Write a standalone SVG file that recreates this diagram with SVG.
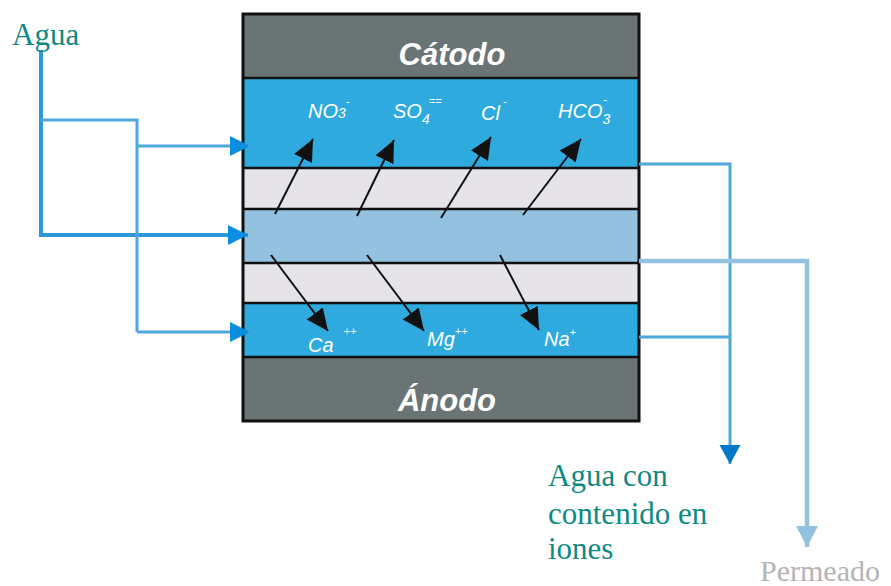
<svg xmlns="http://www.w3.org/2000/svg" width="891" height="586" viewBox="0 0 891 586">
<defs>
<style>
.ion{font-family:"Liberation Sans",Arial,sans-serif;font-style:italic;fill:#fff;font-size:20px}
.sup{font-size:11px}
.elec{font-family:"Liberation Sans",Arial,sans-serif;font-style:italic;font-weight:bold;fill:#fff;font-size:31px;text-anchor:middle}
.teal{font-family:"Liberation Serif","Times New Roman",serif;fill:#0e8a84;font-size:31px}
.blk{stroke:#111;stroke-width:2;fill:none}
.sep{stroke:#111;stroke-width:2.5}
</style>
<marker id="ah" markerUnits="userSpaceOnUse" markerWidth="24" markerHeight="22" refX="22" refY="10" orient="auto"><path d="M0,0 L22,10 L0,20 Z" fill="#111"/></marker>
<marker id="inb" markerUnits="userSpaceOnUse" markerWidth="22" markerHeight="22" refX="20" refY="10" orient="auto"><path d="M0,0 L20,10 L0,20 Z" fill="#0a8fe0"/></marker>
<marker id="outb" markerUnits="userSpaceOnUse" markerWidth="22" markerHeight="22" refX="19" refY="10.5" orient="auto"><path d="M0,0 L19,10.5 L0,21 Z" fill="#0077c8"/></marker>
<marker id="perm" markerUnits="userSpaceOnUse" markerWidth="22" markerHeight="24" refX="21" refY="11" orient="auto"><path d="M0,0 L21,11 L0,22 Z" fill="#92c2e0"/></marker>
</defs>
<g id="cell">
<rect x="243" y="14" width="396" height="64" fill="#6b7475"/>
<rect x="243" y="78" width="396" height="90" fill="#2eaade"/>
<rect x="243" y="168" width="396" height="41" fill="#e6e4e8"/>
<rect x="243" y="209" width="396" height="54" fill="#92c2e0"/>
<rect x="243" y="263" width="396" height="40" fill="#e6e4e8"/>
<rect x="243" y="303" width="396" height="54" fill="#2eaade"/>
<rect x="243" y="357" width="396" height="64" fill="#6b7475"/>
<line class="sep" x1="243" y1="78" x2="639" y2="78"/>
<line class="sep" x1="243" y1="168" x2="639" y2="168"/>
<line class="sep" x1="243" y1="209" x2="639" y2="209"/>
<line class="sep" x1="243" y1="263" x2="639" y2="263"/>
<line class="sep" x1="243" y1="303" x2="639" y2="303"/>
<line class="sep" x1="243" y1="357" x2="639" y2="357"/>
<rect x="243" y="14" width="396" height="407" fill="none" stroke="#111" stroke-width="3"/>
<text class="elec" x="452" y="65">Cátodo</text>
<text class="elec" x="447" y="411">Ánodo</text>
</g>
<g id="ions">
<text class="ion" x="308" y="118">NO<tspan font-size="14">3</tspan><tspan class="sup" dy="-13">-</tspan></text>
<text class="ion" x="393" y="118">SO<tspan font-size="14" dy="6">4</tspan><tspan class="sup" dx="-1" dy="-19">==</tspan></text>
<text class="ion" x="481" y="120">Cl<tspan class="sup" dx="3" dy="-15">-</tspan></text>
<text class="ion" x="558" y="118">HCO<tspan font-size="14" dy="6">3</tspan><tspan class="sup" dx="-7" dy="-21">-</tspan></text>
<text class="ion" x="308" y="352">Ca<tspan class="sup" dx="10" dy="-17">++</tspan></text>
<text class="ion" x="427" y="346">Mg<tspan class="sup" dy="-11">++</tspan></text>
<text class="ion" x="544" y="346">Na<tspan class="sup" dy="-10">+</tspan></text>
</g>
<g id="connectors">
<line class="blk" x1="275" y1="214" x2="313" y2="139" marker-end="url(#ah)"/>
<line class="blk" x1="357" y1="216" x2="394" y2="140" marker-end="url(#ah)"/>
<line class="blk" x1="441" y1="218" x2="491" y2="137" marker-end="url(#ah)"/>
<line class="blk" x1="523" y1="215" x2="581" y2="139" marker-end="url(#ah)"/>
<line class="blk" x1="271" y1="255" x2="328" y2="331" marker-end="url(#ah)"/>
<line class="blk" x1="367" y1="255" x2="424" y2="331" marker-end="url(#ah)"/>
<line class="blk" x1="500" y1="255" x2="539" y2="330" marker-end="url(#ah)"/>
<path d="M41,50 V235 H248" fill="none" stroke="#2f98d8" stroke-width="4" marker-end="url(#inb)"/>
<path d="M41,120 H137 V332" fill="none" stroke="#4ea8dc" stroke-width="3"/>
<path d="M137,146 H250" fill="none" stroke="#4ea8dc" stroke-width="3" marker-end="url(#inb)"/>
<path d="M137,332 H250" fill="none" stroke="#4ea8dc" stroke-width="3" marker-end="url(#inb)"/>
<path d="M639,164 H730 V464" fill="none" stroke="#4ea8d8" stroke-width="3" marker-end="url(#outb)"/>
<path d="M639,337 H730" fill="none" stroke="#4ea8d8" stroke-width="3"/>
<path d="M639,261 H807 V547" fill="none" stroke="#92c2e0" stroke-width="4.5" marker-end="url(#perm)"/>
</g>
<g id="labels">
<text class="teal" x="12" y="45">Agua</text>
<text class="teal" x="548" y="486">Agua con</text>
<text class="teal" x="548" y="524">contenido en</text>
<text class="teal" x="548" y="559">iones</text>
<text x="760" y="581" font-family="Liberation Serif,'Times New Roman',serif" font-size="30" fill="#b4b4b4">Permeado</text>
</g>
</svg>
